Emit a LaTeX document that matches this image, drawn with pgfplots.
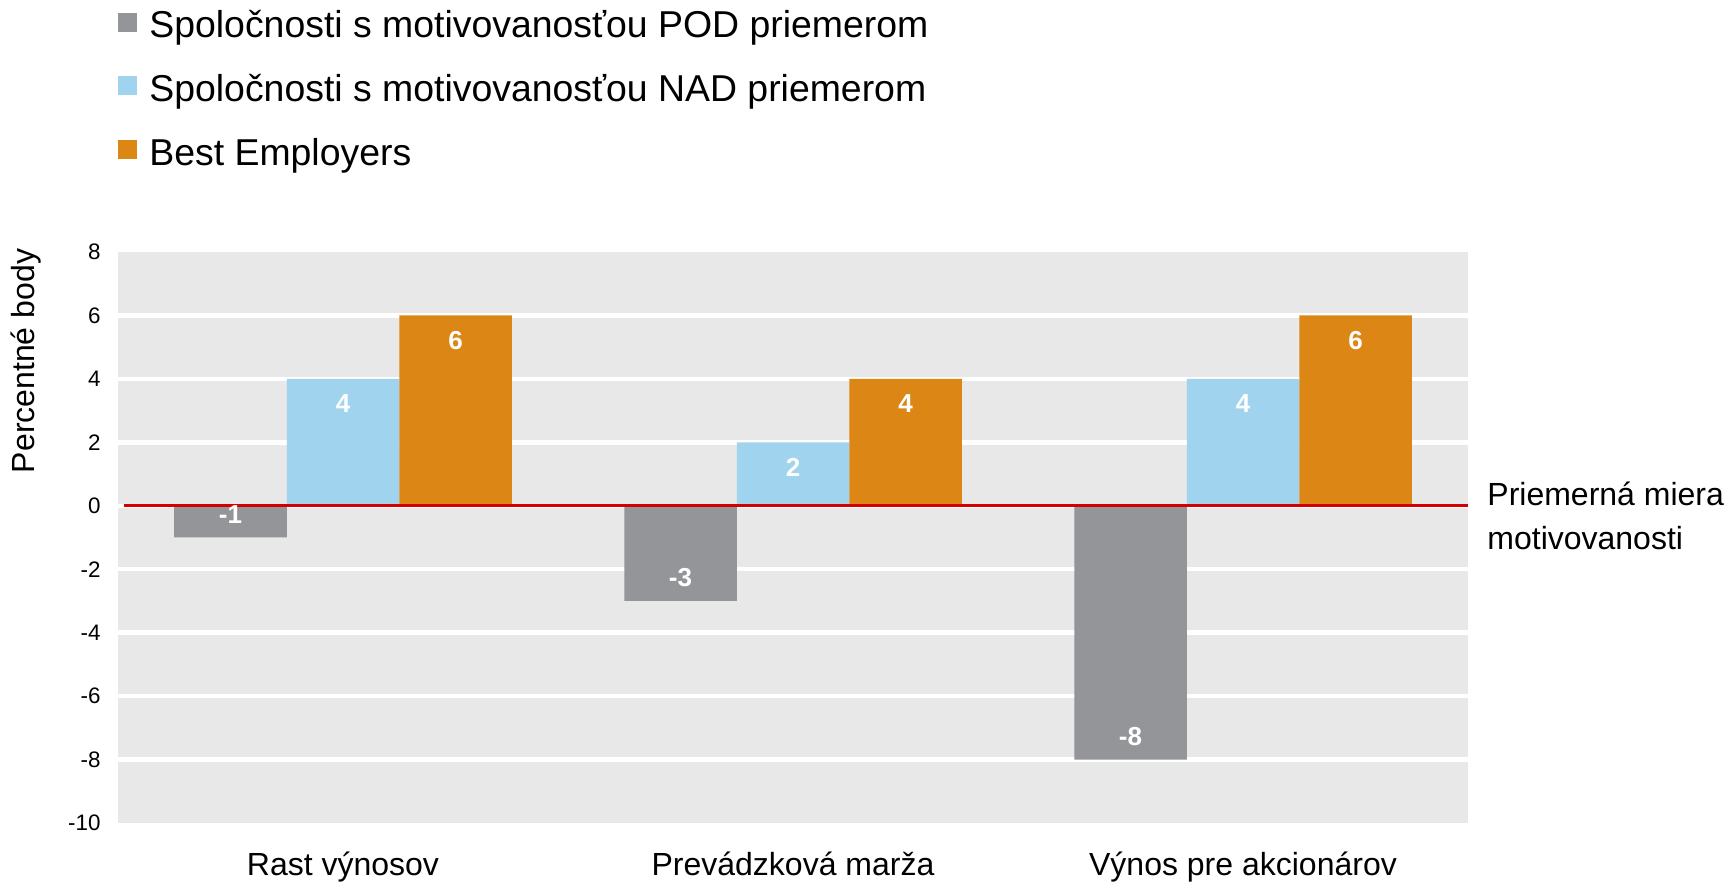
\documentclass[border=0pt]{standalone}
\usepackage{fontspec}
\setmainfont{Liberation Sans}
\usepackage{pgfplots}
\pgfplotsset{compat=1.18}
\definecolor{cgray}{RGB}{147,149,152}
\definecolor{cblue}{RGB}{159,211,238}
\definecolor{corange}{RGB}{220,134,21}
\definecolor{cbg}{RGB}{232,232,232}
\definecolor{cred}{RGB}{210,0,0}
\begin{document}
\begin{tikzpicture}
\useasboundingbox (-59pt,-30pt) rectangle (805pt,411.5pt);
\begin{axis}[
  at={(0pt,0pt)}, anchor=south west,
  scale only axis, width=675pt, height=285.5pt,
  xmin=-0.5, xmax=2.5, ymin=-10, ymax=8,
  axis background/.style={fill=cbg},
  axis line style={draw=none},
  major tick length=0pt, minor tick length=0pt,
  xtick={0,1,2},
  xticklabels={Rast výnosov, Prevádzková marža, Výnos pre akcionárov},
  ytick={-10,-8,...,8},
  yticklabels={-10,-8,-6,-4,-2,0,2,4,6,8},
  minor ytick={-8,-6,...,6},
  yminorgrids, minor grid style={white, line width=2.2pt},
  xticklabel style={font=\fontsize{16}{19}\selectfont, anchor=base, yshift=-26pt},
  yticklabel style={font=\fontsize{11.2}{13}\selectfont, inner sep=0pt, xshift=-8.5pt},
  ybar=0pt, bar width=0.25,
  /pgf/number format/assume math mode=true,
  nodes near coords style={font=\fontsize{13}{15}\selectfont\bfseries, text=white, anchor=center},
  legend style={at={(axis description cs:0,1.4303)}, anchor=north west, draw=none, fill=none,
    inner sep=0pt, font=\fontsize{18.7}{22}\selectfont, row sep=12.7pt,
    nodes={inner sep=2pt},
    /tikz/every odd column/.append style={column sep=4pt}},
  legend cell align=left,
  legend image code/.code={\fill[#1] (0pt,-3pt) rectangle (9.5pt,6.5pt);},
]
\addplot[fill=cgray, draw=none, bar shift=-0.25, nodes near coords,
  nodes near coords style={yshift=11.5pt}] coordinates {(0,-1) (1,-3) (2,-8)};
\addplot[fill=cblue, draw=none, bar shift=0, nodes near coords,
  nodes near coords style={yshift=-12.5pt}] coordinates {(0,4) (1,2) (2,4)};
\addplot[fill=corange, draw=none, bar shift=0.25, nodes near coords,
  nodes near coords style={yshift=-12.5pt}] coordinates {(0,6) (1,4) (2,6)};
\addplot[sharp plot, draw=cred, line width=1.65pt, forget plot, mark=none] coordinates {(-0.487,0) (2.5,0)};
\legend{Spoločnosti s motivovanosťou POD priemerom, Spoločnosti s motivovanosťou NAD priemerom, Best Employers}
\end{axis}
\node[rotate=90, font=\fontsize{16}{19}\selectfont] at (-46pt,231pt) {Percentné body};
\node[anchor=west, align=left, font=\fontsize{16}{22}\selectfont, inner sep=0pt] at (684.5pt,153.5pt) {Priemerná miera\\motivovanosti};
\end{tikzpicture}
\end{document}
